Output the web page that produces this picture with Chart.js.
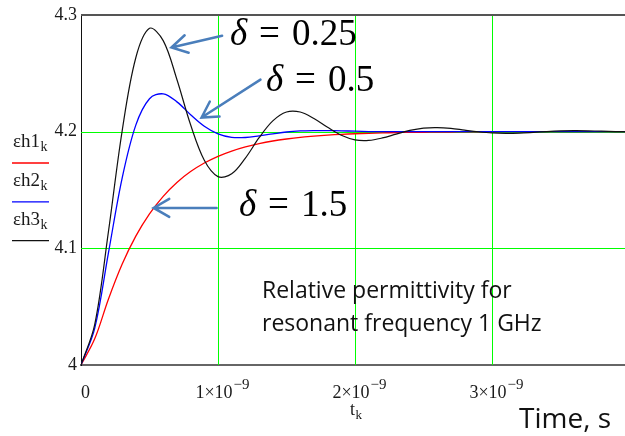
<!DOCTYPE html>
<html>
<head>
<meta charset="utf-8">
<script src="https://cdn.jsdelivr.net/npm/chart.js@4.4.1/dist/chart.umd.min.js"></script>
<style>
  html, body { margin: 0; padding: 0; background: #fff; overflow: hidden; }
  #wrap { width: 630px; height: 436px; }
</style>
</head>
<body>
<div id="wrap"><canvas id="c" width="630" height="436"></canvas></div>
<script>
// Sample times, ns
const times = [0, 0.1, 0.2, 0.3, 0.4, 0.5, 0.6, 0.7, 0.8, 0.9,
               1.0, 1.1, 1.2, 1.3, 1.4, 1.5, 1.6, 1.7, 1.8, 1.9,
               2.0, 2.1, 2.2, 2.3, 2.4, 2.5, 2.6, 2.7, 2.8, 2.9,
               3.0, 3.1, 3.2, 3.3, 3.4, 3.5, 3.6, 3.7, 3.8, 3.9, 4.0];

// εh1 : δ = 1.5
const eh1 = [4.0000, 4.0224, 4.0564, 4.0863, 4.1104, 4.1295, 4.1445, 4.1564, 4.1657, 4.1730,
             4.1788, 4.1833, 4.1869, 4.1897, 4.1919, 4.1936, 4.1950, 4.1960, 4.1969, 4.1976,
             4.1981, 4.1985, 4.1988, 4.1991, 4.1993, 4.1994, 4.1995, 4.1996, 4.1997, 4.1998,
             4.1998, 4.1999, 4.1999, 4.1999, 4.1999, 4.2000, 4.2000, 4.2000, 4.2000, 4.2000, 4.2000];

// εh2 : δ = 0.5
const eh2 = [4.0000, 4.0314, 4.0959, 4.1599, 4.2055, 4.2281, 4.2323, 4.2254, 4.2144, 4.2045,
             4.1980, 4.1950, 4.1949, 4.1963, 4.1980, 4.1996, 4.2005, 4.2008, 4.2008, 4.2006,
             4.2003, 4.2000, 4.1999, 4.2000, 4.2000, 4.2000, 4.2000, 4.2000, 4.2000, 4.2000,
             4.2000, 4.2000, 4.2000, 4.2000, 4.2000, 4.2000, 4.2000, 4.2000, 4.2000, 4.2000, 4.2000];

// εh3 : δ = 0.25
const eh3 = [4.0000, 4.0345, 4.1140, 4.2002, 4.2632, 4.2884, 4.2779, 4.2446, 4.2058, 4.1754,
             4.1614, 4.1638, 4.1773, 4.1947, 4.2091, 4.2167, 4.2167, 4.2112, 4.2036, 4.1968,
             4.1929, 4.1924, 4.1945, 4.1978, 4.2010, 4.2030, 4.2034, 4.2027, 4.2012, 4.1998,
             4.1988, 4.1985, 4.1987, 4.1993, 4.2000, 4.2005, 4.2007, 4.2006, 4.2003, 4.2000, 4.1998];

const seriesNames = ['εh1', 'εh2', 'εh3'];
const seriesColors = ['#ff0000', '#0000ff', '#111111'];
const yTicks = [4, 4.1, 4.2, 4.3];
const xTicks = [0, 1, 2, 3];

// Damping annotations: label text, arrow tail/tip and label anchor in data units (ns, ε)
const deltaTexts = ['0.25', '0.5', '1.5'];
const arrowTails = [[1.03, 4.2820], [1.31, 4.2445], [0.99, 4.1346]];
const arrowTips  = [[0.66, 4.2720], [0.88, 4.2120], [0.53, 4.1346]];
const deltaAnchors = [[1.088, 4.2744], [1.350, 4.2344], [1.153, 4.1278]];
const noteLines = ['Relative permittivity for', 'resonant frequency 1 GHz'];
const noteAnchor = [1.321, 4.0570];

const SERIF = '"Liberation Serif", "Times New Roman", serif';
const SANS = '"Open Sans", "Noto Sans", sans-serif';
const GRID = '#00ff00';
const near = (a, b) => Math.abs(a - b) < 1e-6;

function drawSub(ctx, main, sub, x, base, size, subSize, drop) {
  ctx.font = size + 'px ' + SERIF;
  ctx.textAlign = 'left';
  ctx.fillText(main, x, base);
  const w = ctx.measureText(main).width;
  ctx.font = subSize + 'px ' + SERIF;
  ctx.fillText(sub, x + w + 0.5, base + drop);
}

function arrow(ctx, x0, y0, x1, y1) {
  const ang = Math.atan2(y0 - y1, x0 - x1);
  const len = 18, spread = 0.52;
  ctx.beginPath();
  ctx.moveTo(x0, y0);
  ctx.lineTo(x1, y1);
  ctx.moveTo(x1 + len * Math.cos(ang - spread), y1 + len * Math.sin(ang - spread));
  ctx.lineTo(x1, y1);
  ctx.lineTo(x1 + len * Math.cos(ang + spread), y1 + len * Math.sin(ang + spread));
  ctx.stroke();
}

// Green grid and grey top frame, one device pixel wide, under the curves
const gridLines = {
  id: 'gridLines',
  beforeDatasetsDraw(chart) {
    const { ctx, chartArea: a, scales: { x, y } } = chart;
    ctx.save();
    ctx.fillStyle = GRID;
    xTicks.forEach(v => {
      if (near(v, 0)) return;
      const px = Math.round(x.getPixelForValue(v));
      ctx.fillRect(px, a.top, 1, a.bottom - a.top);
    });
    yTicks.forEach(v => {
      if (near(v, 4) || near(v, 4.3)) return;
      const py = Math.round(y.getPixelForValue(v));
      ctx.fillRect(a.left, py, a.right - a.left, 1);
    });
    ctx.fillStyle = '#555';
    ctx.fillRect(a.left, Math.round(y.getPixelForValue(4.3)) - 1, a.right - a.left, 2);
    ctx.restore();
  }
};

const overlay = {
  id: 'overlay',
  afterDraw(chart) {
    const { ctx, scales: { x, y } } = chart;
    ctx.save();
    ctx.textBaseline = 'alphabetic';

    // x tick labels: n×10^-9
    ctx.fillStyle = '#1a1a1a';
    const lblBase = x.top + 33;
    xTicks.forEach(v => {
      const cx = x.getPixelForValue(v) + 4.5;
      if (v === 0) {
        ctx.font = '18px ' + SERIF;
        ctx.textAlign = 'center';
        ctx.fillText('0', cx, lblBase);
        return;
      }
      const main = v + '×10', sup = '−9';
      ctx.font = '18px ' + SERIF;
      const w1 = ctx.measureText(main).width;
      ctx.font = '15px ' + SERIF;
      const w2 = ctx.measureText(sup).width;
      const sx = cx - (w1 + w2 + 1) / 2;
      ctx.textAlign = 'left';
      ctx.font = '18px ' + SERIF;
      ctx.fillText(main, sx, lblBase);
      ctx.font = '15px ' + SERIF;
      ctx.fillText(sup, sx + w1 + 1, lblBase - 9);
    });

    // axis variable name
    drawSub(ctx, 't', 'k', 350, x.top + 50, 18, 13, 4);

    // series keys down the left margin
    chart.data.datasets.forEach((ds, i) => {
      const base = 147 + i * 38.8;
      ctx.fillStyle = '#1a1a1a';
      drawSub(ctx, ds.label, 'k', 13, base, 19, 14, 4);
      ctx.strokeStyle = ds.borderColor;
      ctx.lineWidth = 1.3;
      ctx.beginPath();
      ctx.moveTo(12, base + 16);
      ctx.lineTo(49, base + 16);
      ctx.stroke();
    });

    // arrows pointing at each curve
    ctx.strokeStyle = '#4a7ebb';
    ctx.lineWidth = 2.5;
    ctx.lineCap = 'round';
    ctx.lineJoin = 'miter';
    arrowTails.forEach((t, i) => {
      const p = arrowTips[i];
      arrow(ctx, x.getPixelForValue(t[0]), y.getPixelForValue(t[1]),
                 x.getPixelForValue(p[0]), y.getPixelForValue(p[1]));
    });

    // δ = ... labels
    ctx.fillStyle = '#000';
    ctx.textAlign = 'left';
    deltaAnchors.forEach((a, i) => {
      const px = x.getPixelForValue(a[0]);
      const py = y.getPixelForValue(a[1]);
      ctx.font = 'italic 37px ' + SERIF;
      ctx.fillText('δ', px, py);
      ctx.font = '37px ' + SERIF;
      ctx.fillText('=', px + 29, py);
      ctx.fillText(deltaTexts[i], px + 62, py);
    });

    // description
    ctx.font = '23px ' + SANS;
    ctx.fillStyle = '#111';
    const nx = x.getPixelForValue(noteAnchor[0]);
    const ny = y.getPixelForValue(noteAnchor[1]);
    noteLines.forEach((s, i) => ctx.fillText(s, nx, ny + i * 33));

    // time caption
    ctx.font = '28px ' + SANS;
    ctx.fillText('Time, s', 519, 428);
    ctx.restore();
  }
};

const mk = (vals) => times.map((t, i) => ({ x: t, y: vals[i] }));

new Chart(document.getElementById('c'), {
  type: 'line',
  data: {
    datasets: [
      { label: seriesNames[0], data: mk(eh1), borderColor: seriesColors[0], borderWidth: 1.3, order: 3 },
      { label: seriesNames[1], data: mk(eh2), borderColor: seriesColors[1], borderWidth: 1.3, order: 2 },
      { label: seriesNames[2], data: mk(eh3), borderColor: seriesColors[2], borderWidth: 1.2, order: 1 }
    ]
  },
  options: {
    responsive: false,
    devicePixelRatio: 1,
    animation: false,
    events: [],
    elements: { point: { radius: 0 }, line: { tension: 0.35, fill: false } },
    layout: { padding: { top: 13, right: 1, left: 0, bottom: 0 } },
    plugins: { legend: { display: false }, tooltip: { enabled: false } },
    scales: {
      x: {
        type: 'linear', min: 0, max: 4,
        afterBuildTicks: s => { s.ticks = xTicks.map(v => ({ value: v })); },
        afterFit: s => { s.height = 71; },
        ticks: { display: false },
        grid: { display: false, drawTicks: false },
        border: { display: true, color: '#666', width: 2 }
      },
      y: {
        type: 'linear', min: 4, max: 4.3,
        afterBuildTicks: s => { s.ticks = yTicks.map(v => ({ value: v })); },
        afterFit: s => { s.width = 81; },
        ticks: {
          padding: 4,
          color: '#1a1a1a',
          font: { family: SERIF, size: 18 },
          callback: v => String(Math.round(v * 10) / 10)
        },
        grid: { display: false, drawTicks: false },
        border: { display: true, color: '#111', width: 1 }
      }
    }
  },
  plugins: [gridLines, overlay]
});
</script>
</body>
</html>
